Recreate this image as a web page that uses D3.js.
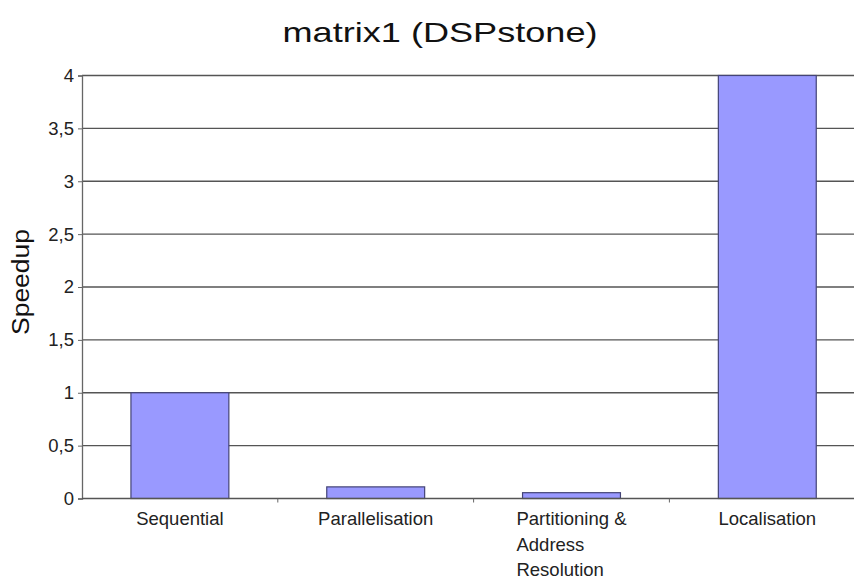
<!DOCTYPE html>
<html><head><meta charset="utf-8">
<script src="https://cdn.jsdelivr.net/npm/d3@7"></script>
<style>body{margin:0;background:#fff;} text{font-family:"Liberation Sans",Arial,sans-serif;}</style>
</head><body>
<svg id="c" width="854" height="580"></svg>
<script>
const categories = ["Sequential", "Parallelisation", "Partitioning & Address Resolution", "Localisation"];
const labelLines = [["Sequential"], ["Parallelisation"], ["Partitioning &", "Address", "Resolution"], ["Localisation"]];
const speedup = [1, 0.11, 0.055, 4];
const yTicks = [0, 0.5, 1, 1.5, 2, 2.5, 3, 3.5, 4];
const yTickLabels = ["0", "0,5", "1", "1,5", "2", "2,5", "3", "3,5", "4"];

(function () {
const svg = d3.select("#c");
const mLeft = 82, mTop = 75.5, mBottom = 498.5, bandW = 195.8;
const x = d3.scaleBand().domain(categories).range([mLeft, mLeft + bandW * categories.length]).paddingInner(0.5).paddingOuter(0.25);
const y = d3.scaleLinear().domain([0, 4]).range([mBottom, mTop]);

svg.append("text").attr("x", 440).attr("y", 42).attr("text-anchor", "middle")
  .attr("font-size", 28).attr("fill", "#111")
  .attr("textLength", 315).attr("lengthAdjust", "spacingAndGlyphs")
  .text("matrix1 (DSPstone)");

svg.append("text").attr("transform", "translate(29,282) rotate(-90)").attr("text-anchor", "middle")
  .attr("font-size", 23).attr("fill", "#111")
  .attr("textLength", 106).attr("lengthAdjust", "spacingAndGlyphs")
  .text("Speedup");

// gridlines
svg.append("g").selectAll("line").data(yTicks.filter(d => d > 0)).join("line")
  .attr("x1", mLeft).attr("x2", 854).attr("y1", d => y(d)).attr("y2", d => y(d))
  .attr("stroke", "#555").attr("stroke-width", 1.3);

// y axis
const yAxis = d3.axisLeft(y).tickValues(yTicks).tickFormat((d, i) => yTickLabels[i]).tickSize(4).tickPadding(4);
const gy = svg.append("g").attr("transform", `translate(${mLeft},0)`).call(yAxis);
gy.attr("font-size", null).attr("font-family", null);
gy.select(".domain").attr("stroke", "#666").attr("stroke-width", 1.3);
gy.selectAll(".tick line").attr("stroke", "#666");
gy.selectAll("text").attr("font-size", 18.5).attr("fill", "#222");

// bars
svg.append("g").selectAll("rect").data(speedup).join("rect")
  .attr("x", (d, i) => x(categories[i])).attr("width", x.bandwidth())
  .attr("y", d => y(d)).attr("height", d => y(0) - y(d))
  .attr("fill", "#9999ff").attr("stroke", "#444477").attr("stroke-width", 1.2);

// x axis
svg.append("line").attr("x1", mLeft).attr("x2", 854).attr("y1", mBottom).attr("y2", mBottom)
  .attr("stroke", "#555").attr("stroke-width", 1.3);
svg.append("g").selectAll("line").data(d3.range(1, categories.length)).join("line")
  .attr("x1", i => mLeft + i * bandW).attr("x2", i => mLeft + i * bandW)
  .attr("y1", mBottom).attr("y2", mBottom + 4).attr("stroke", "#666");

const lab = svg.append("g").selectAll("text").data(categories).join("text")
  .attr("font-size", 18.5).attr("fill", "#222")
  .attr("y", 525);
lab.each(function(d, i) {
  const t = d3.select(this);
  const cx = x(d) + x.bandwidth() / 2;
  const lines = labelLines[i];
  const spans = lines.map((l, j) => t.append("tspan").attr("x", cx).attr("y", 525 + j * 25.5).text(l));
  const w = d3.max(spans, s => s.node().getComputedTextLength());
  spans.forEach(s => s.attr("x", cx - w / 2));
});
})();
</script>
</body></html>
